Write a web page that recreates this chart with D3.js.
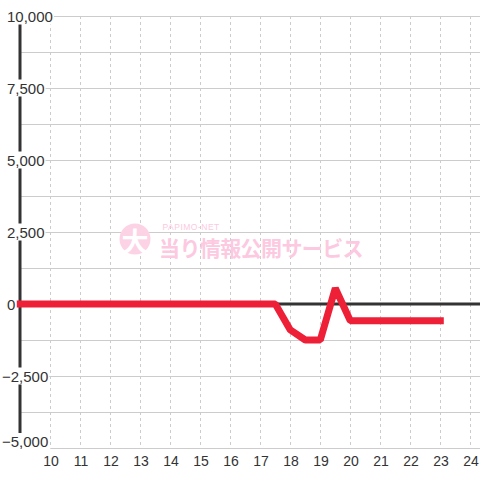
<!DOCTYPE html>
<html><head><meta charset="utf-8">
<script src="https://cdn.jsdelivr.net/npm/d3@7"></script>
<style>html,body{margin:0;padding:0;background:#fff;}svg{display:block;}</style>
</head><body>
<svg id="chart" width="480" height="480"></svg>
<script>
const xValues = [9,9.5,10,10.5,11,11.5,12,12.5,13,13.5,14,14.5,15,15.5,16,16.5,17,17.5,18,18.5,19,19.5,20,20.5,21,21.5,22,22.5,23];
const yValues = [0,0,0,0,0,0,0,0,0,0,0,0,0,0,0,0,0,0,-900,-1250,-1250,550,-580,-580,-580,-580,-580,-580,-580];
const xTicks = [10,11,12,13,14,15,16,17,18,19,20,21,22,23,24];
const yTicks = [-5000,-2500,0,2500,5000,7500,10000];
const yGrid = [-5000,-3750,-2500,-1250,0,1250,2500,3750,5000,6250,7500,8750,10000];

const svg = d3.select("#chart");
const x = d3.scaleLinear().domain([10,24]).range([50.3,470.3]);
const y = d3.scaleLinear().domain([-5000,10000]).range([448,16]);

// horizontal grid
svg.append("g").selectAll("line").data(yGrid).join("line")
  .attr("x1",d=> d===-5000 ? x(10) : 20).attr("x2",480)
  .attr("y1",d=>Math.round(y(d))+0.5).attr("y2",d=>Math.round(y(d))+0.5)
  .attr("stroke","#cccccc").attr("stroke-width",1);
// vertical dashed grid
svg.append("g").selectAll("line").data(xTicks).join("line")
  .attr("x1",d=>Math.round(x(d))+0.5).attr("x2",d=>Math.round(x(d))+0.5)
  .attr("y1",16).attr("y2",448)
  .attr("stroke","#cccccc").attr("stroke-width",1).attr("stroke-dasharray","3,3");

// watermark
const wm = svg.append("g");
wm.append("circle").attr("cx",135).attr("cy",239).attr("r",15.5).attr("fill","#fcd3e5");
wm.append("text").attr("x",135).attr("y",240).attr("text-anchor","middle").attr("dominant-baseline","central")
  .attr("font-family","Noto Sans CJK JP").attr("font-weight","bold").attr("font-size",27).attr("fill","#ffffff").text("大");
wm.append("text").attr("x",162.5).attr("y",229.5).attr("font-family","Liberation Sans, Arial")
  .attr("font-size",8.5).attr("letter-spacing",0.5).attr("fill","#fcc9e0").text("PAPIMO-NET");
wm.append("text").attr("x",159).attr("y",246.5).attr("dominant-baseline","central")
  .attr("font-family","Noto Sans CJK JP").attr("font-weight","bold").attr("font-size",21).attr("letter-spacing",-0.6)
  .attr("fill","#fcc9e0").text("当り情報公開サービス");

// zero line
svg.append("line").attr("x1",20).attr("x2",480).attr("y1",y(0)).attr("y2",y(0))
  .attr("stroke","#333333").attr("stroke-width",3);
// y axis line
svg.append("line").attr("x1",20).attr("x2",20).attr("y1",16).attr("y2",448)
  .attr("stroke","#333333").attr("stroke-width",3);

// y labels with white background
const fmt = d3.format(",");
const yl = svg.append("g").selectAll("g").data(yTicks).join("g");
yl.each(function(d){
  const g = d3.select(this);
  const cy = Math.min(y(d), 441.5);
  const t = g.append("text").attr("x", d<0 ? 2 : 7).attr("y", cy).attr("dominant-baseline","central")
    .attr("font-family","Liberation Sans, Arial").attr("font-size",15).attr("fill","#333333").text(fmt(d));
  const b = t.node().getBBox();
  g.insert("rect","text").attr("x",b.x-1).attr("y",b.y).attr("width",b.width+2).attr("height",b.height).attr("fill","#ffffff");
});

// x labels
svg.append("g").selectAll("text").data(xTicks).join("text")
  .attr("x",d=>x(d)+0.7).attr("y",466).attr("text-anchor","middle")
  .attr("font-family","Liberation Sans, Arial").attr("font-size",14).attr("fill","#333333").text(d=>d);

// data line
const pts = xValues.map((v,i)=>[v,yValues[i]]);
svg.append("path").datum(pts)
  .attr("d", d3.line().x(d=>x(d[0])).y(d=>y(d[1])))
  .attr("fill","none").attr("stroke","#ee2038").attr("stroke-width",7)
  .attr("stroke-linejoin","bevel").attr("stroke-linecap","square");
</script>
</body></html>
